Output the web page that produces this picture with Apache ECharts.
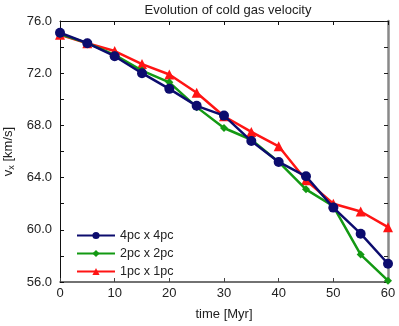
<!DOCTYPE html>
<html><head><meta charset="utf-8">
<script src="https://cdn.jsdelivr.net/npm/echarts@6/dist/echarts.min.js"></script>
<style>html,body{margin:0;padding:0;background:#fff}#c{width:399px;height:326px}</style>
</head><body><div id="c"></div>
<script>
const times = [0,5,10,15,20,25,30,35,40,45,50,55,60];
const v4pc = [75.1,74.3,73.3,72.0,70.8,69.5,68.75,66.8,65.2,64.1,61.7,59.7,57.4];
const v2pc = [75.0,74.3,73.4,72.2,71.3,69.4,67.8,66.9,65.2,63.1,61.8,58.1,56.1];
const v1pc = [74.95,74.3,73.7,72.7,71.9,70.5,68.7,67.5,66.4,63.8,62.0,61.4,60.2];
const names = ['4pc x 4pc','2pc x 2pc','1pc x 1pc'];
const colors = ['#0c0c6e','#139913','#ff1414'];
const symbols = ['circle','diamond','triangle'];
const sizes = [10,8,10];
const pair = a => times.map((t,i)=>[t,a[i]]);
const chart = echarts.init(document.getElementById('c'));
const font = 'Liberation Sans, DejaVu Sans, sans-serif';
const frame = '#444';
chart.setOption({
  animation:false,
  title:{text:'Evolution of cold gas velocity',left:223,textAlign:'center',top:-1,
    textStyle:{fontSize:13,fontWeight:'normal',color:'#222',fontFamily:font}},
  grid:{left:60,right:11,top:21,bottom:44,containLabel:false,outerBoundsMode:'none'},
  legend:{left:71,top:224,orient:'vertical',itemWidth:38,itemHeight:9,itemGap:5,
    textStyle:{fontSize:12.5,color:'#222',fontFamily:font},
    data:names},
  xAxis:[
    {type:'value',min:0,max:60,interval:10,position:'bottom',
     name:'time [Myr]',nameLocation:'middle',nameGap:26,
     nameTextStyle:{fontSize:13,color:'#222',fontFamily:font},
     axisLine:{onZero:false,lineStyle:{color:frame,width:1.5}},
     axisTick:{inside:true,length:4,lineStyle:{color:frame}},
     axisLabel:{fontSize:13,color:'#222',fontFamily:font,margin:5},
     splitLine:{show:false}},
    {type:'value',min:0,max:60,interval:10,position:'top',
     axisLine:{onZero:false,lineStyle:{color:'#111',width:1}},
     axisTick:{inside:true,length:4,lineStyle:{color:'#111'}},
     axisLabel:{show:false},splitLine:{show:false}}
  ],
  yAxis:[
    {type:'value',min:56,max:76,interval:4,position:'left',
     name:'v{sub|x} [km/s]',nameLocation:'middle',nameGap:41,nameRotate:90,
     nameTextStyle:{fontSize:13,color:'#222',fontFamily:font,
       rich:{sub:{fontSize:9,verticalAlign:'bottom',padding:[6,0,0,0],color:'#222',fontFamily:font}}},
     axisLine:{show:true,onZero:false,lineStyle:{color:'#111',width:1}},
     axisTick:{show:true,inside:true,length:4,lineStyle:{color:'#111'}},
     minorTick:{show:true,splitNumber:2,length:4,lineStyle:{color:'#111'}},
     axisLabel:{fontSize:13,color:'#222',fontFamily:font,margin:8,formatter:v=>v.toFixed(1)},
     splitLine:{show:false}},
    {type:'value',min:56,max:76,interval:4,position:'right',
     axisLine:{show:true,onZero:false,lineStyle:{color:'#888',width:2.5}},
     axisTick:{show:true,inside:true,length:4,lineStyle:{color:'#222'}},
     minorTick:{show:true,splitNumber:2,length:4,lineStyle:{color:'#222'}},
     axisLabel:{show:false},splitLine:{show:false}}
  ],
  series:[v4pc,v2pc,v1pc].map((d,i)=>({
    name:names[i],type:'line',data:pair(d),symbol:symbols[i],symbolSize:sizes[i],
    showAllSymbol:true,clip:false,
    lineStyle:{color:colors[i],width:2.5},itemStyle:{color:colors[i]},
    z:3-i
  }))
});
</script></body></html>
